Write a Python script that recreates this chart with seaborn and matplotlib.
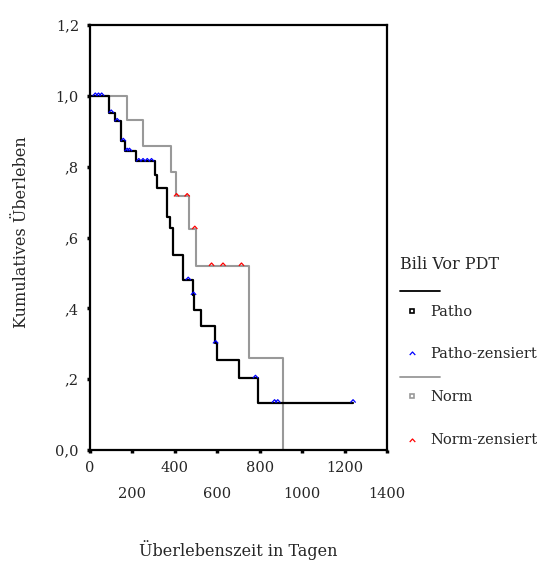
import matplotlib
matplotlib.use("Agg")
import matplotlib.pyplot as plt
import seaborn as sns
import pandas as pd
from matplotlib.lines import Line2D
from matplotlib.path import Path

# ---- data ----
patho_t = [0, 89, 116, 148, 166, 218, 306, 317, 361, 376, 389, 439, 486, 490, 521, 587, 600, 701, 790, 1240]
patho_s = [1.0, 0.952, 0.928, 0.872, 0.844, 0.815, 0.777, 0.739, 0.659, 0.626, 0.551, 0.480, 0.438, 0.395, 0.350, 0.301, 0.254, 0.203, 0.134, 0.134]
patho_cens_t = [25, 40, 55, 100, 128, 157, 175, 186, 230, 250, 270, 290, 463, 488, 592, 780, 870, 885, 1240]
patho_cens_s = [1.0, 1.0, 1.0, 0.952, 0.928, 0.872, 0.844, 0.844, 0.815, 0.815, 0.815, 0.815, 0.480, 0.438, 0.301, 0.203, 0.134, 0.134, 0.134]

norm_t = [0, 176, 250, 384, 405, 467, 502, 751, 910]
norm_s = [1.0, 0.933, 0.858, 0.785, 0.716, 0.624, 0.520, 0.260, 0.0]
norm_cens_t = [408, 458, 494, 573, 627, 714]
norm_cens_s = [0.716, 0.716, 0.624, 0.520, 0.520, 0.520]

x_ticks_row1 = [0, 400, 800, 1200]
x_ticks_row2 = [200, 600, 1000, 1400]
y_ticks = [0.0, 0.2, 0.4, 0.6, 0.8, 1.0, 1.2]
y_tick_labels = ["0,0", ",2", ",4", ",6", ",8", "1,0", "1,2"]

legend_title = "Bili Vor PDT"
legend_labels = ["Patho", "Patho-zensiert", "Norm", "Norm-zensiert"]

# ---- style ----
sns.set_style("white")
FONT = ["DejaVu Serif"]
plt.rcParams["font.family"] = FONT

W, H = 544, 563
fig = plt.figure(figsize=(W / 100, H / 100), dpi=100)
ax = fig.add_axes([90 / W, 1 - 450 / H, (387 - 90) / W, (450 - 25) / H])

chevron = Path([(-1, -0.55), (0, 0.55), (1, -0.55)], [Path.MOVETO, Path.LINETO, Path.LINETO])

df_p = pd.DataFrame({"t": patho_t, "s": patho_s})
df_n = pd.DataFrame({"t": norm_t, "s": norm_s})
sns.lineplot(data=df_n, x="t", y="s", drawstyle="steps-post", estimator=None, sort=False,
             color="#999999", lw=1.5, ax=ax)
sns.lineplot(data=df_p, x="t", y="s", drawstyle="steps-post", estimator=None, sort=False,
             color="black", lw=1.6, ax=ax)

sns.scatterplot(x=patho_cens_t, y=[v + 0.004 for v in patho_cens_s], marker=chevron, s=14,
                facecolors="none", edgecolor="blue", linewidth=0.9, ax=ax, zorder=5)
sns.scatterplot(x=norm_cens_t, y=[v + 0.004 for v in norm_cens_s], marker=chevron, s=14,
                facecolors="none", edgecolor="red", linewidth=0.9, ax=ax, zorder=5)

ax.set_xlim(0, 1400)
ax.set_ylim(0, 1.2)
ax.set_xticks(x_ticks_row1)
ax.set_xticklabels([str(v) for v in x_ticks_row1])
ax.set_xticks(x_ticks_row2, minor=True)
ax.set_xticklabels([str(v) for v in x_ticks_row2], minor=True)
ax.set_yticks(y_ticks)
ax.set_yticklabels(y_tick_labels)
ax.tick_params(axis="x", which="major", direction="out", length=2, width=2.5, pad=6,
               labelsize=10.5, bottom=True, color="black")
ax.tick_params(axis="x", which="minor", direction="out", length=2, width=2.5, pad=25,
               labelsize=10.5, bottom=True, color="black")
ax.tick_params(axis="y", direction="out", length=2, width=2.5, pad=6, labelsize=10.5,
               left=True, color="black")
ax.set_xlabel("")
ax.set_ylabel("")
for sp in ax.spines.values():
    sp.set_visible(True)
    sp.set_color("black")
    sp.set_linewidth(1.6)
ax.grid(False)

def fx(px):
    return px / W

def fy(py):
    return 1 - py / H

fig.text(fx(238), fy(550), "Überlebenszeit in Tagen", ha="center", va="center", fontsize=11.5)
fig.text(fx(22), fy(232), "Kumulatives Überleben", ha="center", va="center", rotation=90, fontsize=11.5)

# ---- legend (manual, outside the axes) ----
fig.text(fx(400), fy(265), legend_title, ha="left", va="center", fontsize=11.5)
fig.add_artist(Line2D([fx(400), fx(440)], [fy(290.5), fy(290.5)], color="black", lw=1.3,
                      transform=fig.transFigure))
fig.add_artist(Line2D([fx(412)], [fy(311)], marker="s", ms=3.5, mfc="none", mec="black", mew=1.2,
                      transform=fig.transFigure, ls="none"))
fig.text(fx(430), fy(312), legend_labels[0], ha="left", va="center", fontsize=10.5)
fig.add_artist(Line2D([fx(412)], [fy(353)], marker=chevron, ms=4, mfc="none", mec="blue", mew=0.9,
                      transform=fig.transFigure, ls="none"))
fig.text(fx(430), fy(354), legend_labels[1], ha="left", va="center", fontsize=10.5)
fig.add_artist(Line2D([fx(400), fx(440)], [fy(377), fy(377)], color="#999999", lw=1.3,
                      transform=fig.transFigure))
fig.add_artist(Line2D([fx(412)], [fy(396)], marker="s", ms=3.5, mfc="none", mec="#999999", mew=1.2,
                      transform=fig.transFigure, ls="none"))
fig.text(fx(430), fy(397), legend_labels[2], ha="left", va="center", fontsize=10.5)
fig.add_artist(Line2D([fx(412)], [fy(440)], marker=chevron, ms=4, mfc="none", mec="red", mew=0.9,
                      transform=fig.transFigure, ls="none"))
fig.text(fx(430), fy(440), legend_labels[3], ha="left", va="center", fontsize=10.5)

fig.savefig("out.png", dpi=100)
